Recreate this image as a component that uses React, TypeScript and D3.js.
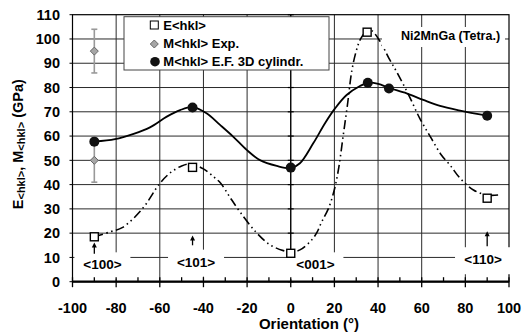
import * as d3 from "d3";

// E<hkl>, open squares (GPa) and the dash-dot-dot curve read along it
const E_X = [-90, -45, 0, 35, 90];
const E_Y = [18.5, 47.1, 11.7, 102.8, 34.4];
const E_CURVE_X = [-90, -82.5, -77, -68, -60, -55, -50, -46, -40, -35, -32, -28, -23.3, -16, -9.5, -3.4, 0, 4.2, 9.6, 12, 14.2, 17.3, 20, 22, 24, 26, 28, 30, 32, 35, 37, 41, 45, 48.5, 54, 59, 64, 69, 73, 77.6, 83.7, 89.8, 95];
const E_CURVE_Y = [18.5, 20.6, 22.4, 30, 40.5, 45, 47.7, 48.5, 46.5, 43, 40.5, 35, 28.8, 20.5, 15.2, 12.8, 12.2, 13.1, 17.2, 20.3, 24.7, 30.2, 38, 47, 60, 73, 87, 95, 100, 103.5, 103.5, 98.9, 92, 86.5, 77, 67.5, 59.7, 52.2, 48, 42.6, 37.8, 35.7, 35.7];

// M<hkl> E.F. 3D cylindr., filled circles and the solid curve read along it
const M_X = [-90, -45, 0, 35.3, 45, 90];
const M_Y = [57.7, 71.8, 47, 82, 79.6, 68.4];
const M_CURVE_X = [-90, -80.5, -72, -64.5, -56.8, -50.7, -45, -38.6, -32.4, -26.3, -20.2, -14.1, -6.4, 0, 4.2, 10.3, 15.7, 20.3, 25.6, 31.7, 35.5, 40.1, 45.1, 53.1, 60.7, 68.4, 77.6, 90];
const M_CURVE_Y = [57.7, 58.7, 60.9, 63.6, 68, 70.7, 71.9, 69.4, 64.6, 59.7, 54.3, 50.1, 47.7, 46.8, 48.8, 57, 65.3, 71.4, 76.9, 80.6, 82, 81.5, 79.8, 77.6, 74.9, 72.4, 70.5, 68.4];

// M<hkl> Exp., grey diamonds with error bars
const EXP_X = [-90, -90];
const EXP_Y = [95, 50];
const EXP_ERR = [9, 9];

// direction labels
const DIR_TEXT = ["<100>", "<101>", "<001>", "<110>"];
const DIR_X = [-86.3, -43.4, 11.3, 88.1];
const DIR_Y = [5.1, 6.2, 5.1, 7.2];
const ARROW_X = [-90, -45, 90];
const ARROW_Y0 = [11.5, 15.0, 14.6];
const ARROW_Y1 = [16.2, 19.0, 20.8];

const X_TICKS = d3.range(-100, 101, 20);
const Y_TICKS = d3.range(0, 111, 10);

const FONT = "Arial, 'Liberation Sans', Helvetica, sans-serif";

export default function App() {
  const W = 522;
  const H = 333;
  const x = d3.scaleLinear().domain([-100, 100]).range([72.5, 509]);
  const y = d3.scaleLinear().domain([0, 110]).range([281.7, 14.7]);
  const [x0, x1] = x.range();
  const [yb, yt] = y.range();

  const line = d3
    .line<[number, number]>()
    .x((d) => x(d[0]))
    .y((d) => y(d[1]))
    .curve(d3.curveCatmullRom.alpha(0.5));
  const ePath = line(E_CURVE_X.map((v, i) => [v, E_CURVE_Y[i]])) ?? "";
  const mPath = line(M_CURVE_X.map((v, i) => [v, M_CURVE_Y[i]])) ?? "";

  const diamond = (cx: number, cy: number, r: number) =>
    `M${cx},${cy - r}L${cx + r},${cy}L${cx},${cy + r}L${cx - r},${cy}Z`;

  return (
    <svg width={W} height={H} style={{ position: "absolute", left: 0, top: 0, background: "#fff" }} fontFamily={FONT}>
      {/* grid */}
      {Y_TICKS.filter((t) => t > 0 && t < 110).map((t) => (
        <line key={"h" + t} x1={x0} x2={x1} y1={y(t)} y2={y(t)} stroke="#2a2a2a" strokeWidth={1} />
      ))}
      {X_TICKS.filter((t) => t > -100 && t < 100 && t !== 0).map((t) => (
        <line key={"v" + t} x1={x(t)} x2={x(t)} y1={yt} y2={yb} stroke="#2a2a2a" strokeWidth={1} />
      ))}
      <rect x={x0} y={yt} width={x1 - x0} height={yb - yt} fill="none" stroke="#000" strokeWidth={1.2} />
      {/* left outer ticks */}
      {Y_TICKS.map((t) => (
        <line key={"lt" + t} x1={x0 - 3} x2={x0} y1={y(t)} y2={y(t)} stroke="#000" />
      ))}

      {/* vertical axis at x = 0 */}
      <line x1={x(0)} x2={x(0)} y1={yt} y2={yb} stroke="#000" strokeWidth={1.4} />
      {Y_TICKS.map((t) => (
        <line key={"yt" + t} x1={x(0) - 3} x2={x(0) + 3} y1={y(t)} y2={y(t)} stroke="#000" strokeWidth={1.2} />
      ))}

      {/* direction labels on white boxes */}
      {DIR_TEXT.map((s, i) => (
        <g key={s}>
          <rect x={x(DIR_X[i]) - 28} y={y(DIR_Y[i]) - 17} width={56} height={27} fill="#fff" />
          <text x={x(DIR_X[i])} y={y(DIR_Y[i])} textAnchor="middle" fontSize={13.5} fontWeight={700}>{s}</text>
        </g>
      ))}
      {ARROW_X.map((v, i) => (
        <g key={"ar" + i}>
          <line x1={x(v)} x2={x(v)} y1={y(ARROW_Y0[i])} y2={y(ARROW_Y1[i]) + 3} stroke="#000" strokeWidth={1.3} />
          <path d={`M${x(v)},${y(ARROW_Y1[i])}l-2.5,5h5Z`} fill="#000" />
        </g>
      ))}

      {/* x axis */}
      <line x1={x0} x2={x1} y1={yb} y2={yb} stroke="#000" strokeWidth={2.2} />
      {d3.range(-100, 101, 10).map((t) => (
        <line key={"xt" + t} x1={x(t)} x2={x(t)} y1={yb - 4.5} y2={t % 20 === 0 ? yb + 5.5 : yb} stroke="#000" strokeWidth={1.3} />
      ))}
      {X_TICKS.map((t) => (
        <text key={"xl" + t} x={x(t)} y={312.5} textAnchor="middle" fontSize={14.5} fontWeight={700}>{t}</text>
      ))}
      {Y_TICKS.map((t) => (
        <text key={"yl" + t} x={60} y={y(t)} dy="0.36em" textAnchor="end" fontSize={14.5} fontWeight={700}>{t}</text>
      ))}

      {/* axis titles */}
      <text x={309} y={328.5} textAnchor="middle" fontSize={15} fontWeight={700}>Orientation (°)</text>
      <text transform={`translate(23,${(yt + yb) / 2 - 4}) rotate(-90)`} textAnchor="middle" fontSize={14.5} fontWeight={700}>
        E<tspan fontSize={11} dy={2}>&lt;hkl&gt;</tspan>
        <tspan dy={-2}>, M</tspan>
        <tspan fontSize={11} dy={2}>&lt;hkl&gt;</tspan>
        <tspan dy={-2}> (GPa)</tspan>
      </text>

      {/* error bars and diamonds */}
      {EXP_X.map((v, i) => (
        <g key={"eb" + i} stroke="#999" strokeWidth={1.6}>
          <line x1={x(v)} x2={x(v)} y1={y(EXP_Y[i] - EXP_ERR[i])} y2={y(EXP_Y[i] + EXP_ERR[i])} />
          <line x1={x(v) - 3} x2={x(v) + 3} y1={y(EXP_Y[i] - EXP_ERR[i])} y2={y(EXP_Y[i] - EXP_ERR[i])} />
          <line x1={x(v) - 3} x2={x(v) + 3} y1={y(EXP_Y[i] + EXP_ERR[i])} y2={y(EXP_Y[i] + EXP_ERR[i])} />
        </g>
      ))}

      {/* curves */}
      <path d={ePath} fill="none" stroke="#000" strokeWidth={1.6} strokeDasharray="9 3.5 1.5 3.5 1.5 3.5" />
      <path d={mPath} fill="none" stroke="#000" strokeWidth={1.8} />

      {EXP_X.map((v, i) => (
        <path key={"d" + i} d={diamond(x(v), y(EXP_Y[i]), 4)} fill="#a6a6a6" stroke="#666" strokeWidth={1} />
      ))}
      {M_X.map((v, i) => (
        <circle key={"c" + i} cx={x(v)} cy={y(M_Y[i])} r={5} fill="#111" />
      ))}
      {E_X.map((v, i) => (
        <rect key={"s" + i} x={x(v) - 4} y={y(E_Y[i]) - 4} width={8} height={8} fill="#fff" stroke="#000" strokeWidth={1.4} />
      ))}

      {/* legend */}
      <rect x={124} y={16.7} width={205} height={53.3} fill="#fff" stroke="#444" strokeWidth={1} />
      <rect x={150.3} y={21} width={8} height={8} fill="#fff" stroke="#000" strokeWidth={1} />
      <path d={diamond(154.3, 44, 4)} fill="#a6a6a6" stroke="#666" strokeWidth={1} />
      <circle cx={155} cy={61.7} r={4.8} fill="#111" />
      <text x={163.3} y={29.5} fontSize={13} fontWeight={700}>E&lt;hkl&gt;</text>
      <text x={163.3} y={48.3} fontSize={13} fontWeight={700}>M&lt;hkl&gt; Exp.</text>
      <text x={163.3} y={66} fontSize={13} fontWeight={700}>M&lt;hkl&gt; E.F. 3D cylindr.</text>

      {/* material label */}
      <rect x={382} y={27} width={123} height={20} fill="#fff" />
      <text x={450.5} y={40.3} textAnchor="middle" fontSize={12.5} fontWeight={700}>Ni2MnGa (Tetra.)</text>
    </svg>
  );
}
